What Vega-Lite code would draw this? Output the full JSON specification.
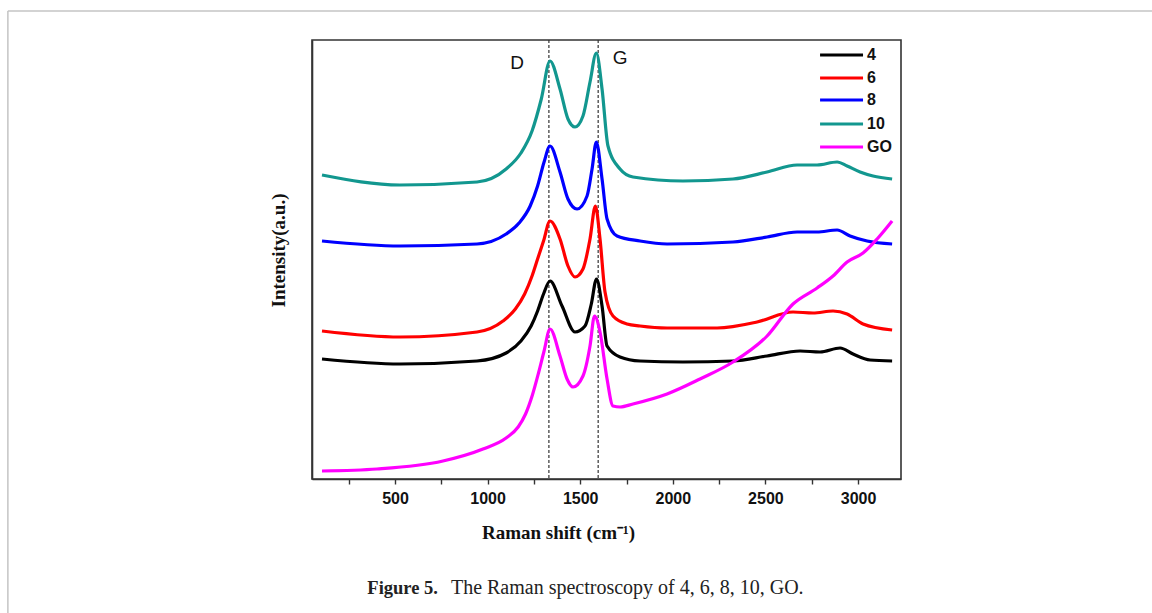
{
  "$schema": "https://vega.github.io/schema/vega-lite/v6.json",
  "width": 589,
  "height": 439,
  "autosize": {"type": "none"},
  "padding": {"left": 312, "top": 40, "right": 251, "bottom": 134},
  "background": "white",
  "config": {
    "view": {"stroke": "#333333", "strokeWidth": 1.6},
    "axis": {"grid": false}
  },
  "datasets": {
    "spectra": [
      {"x": 106, "y": 120, "s": "4"}, {"x": 527, "y": 115, "s": "4"}, {"x": 943, "y": 118, "s": "4"}, {"x": 1100, "y": 126, "s": "4"}, {"x": 1180, "y": 138, "s": "4"}, {"x": 1235, "y": 153, "s": "4"}, {"x": 1270, "y": 168, "s": "4"}, {"x": 1302, "y": 185, "s": "4"}, {"x": 1337, "y": 198, "s": "4"}, {"x": 1402, "y": 173, "s": "4"}, {"x": 1472, "y": 147, "s": "4"}, {"x": 1526, "y": 153, "s": "4"}, {"x": 1560, "y": 175, "s": "4"}, {"x": 1588, "y": 200, "s": "4"}, {"x": 1618, "y": 173, "s": "4"}, {"x": 1645, "y": 133, "s": "4"}, {"x": 1715, "y": 122, "s": "4"}, {"x": 1823, "y": 118, "s": "4"}, {"x": 2055, "y": 117, "s": "4"}, {"x": 2325, "y": 118, "s": "4"}, {"x": 2509, "y": 123, "s": "4"}, {"x": 2687, "y": 128, "s": "4"}, {"x": 2795, "y": 127, "s": "4"}, {"x": 2903, "y": 131, "s": "4"}, {"x": 2973, "y": 125, "s": "4"}, {"x": 3065, "y": 119, "s": "4"}, {"x": 3184, "y": 118, "s": "4"},
      {"x": 106, "y": 148, "s": "6"}, {"x": 527, "y": 142, "s": "6"}, {"x": 943, "y": 147, "s": "6"}, {"x": 1083, "y": 158, "s": "6"}, {"x": 1150, "y": 170, "s": "6"}, {"x": 1200, "y": 185, "s": "6"}, {"x": 1240, "y": 203, "s": "6"}, {"x": 1270, "y": 220, "s": "6"}, {"x": 1302, "y": 238, "s": "6"}, {"x": 1337, "y": 258, "s": "6"}, {"x": 1391, "y": 240, "s": "6"}, {"x": 1434, "y": 213, "s": "6"}, {"x": 1472, "y": 202, "s": "6"}, {"x": 1515, "y": 210, "s": "6"}, {"x": 1553, "y": 240, "s": "6"}, {"x": 1582, "y": 273, "s": "6"}, {"x": 1607, "y": 240, "s": "6"}, {"x": 1634, "y": 187, "s": "6"}, {"x": 1677, "y": 163, "s": "6"}, {"x": 1753, "y": 155, "s": "6"}, {"x": 1823, "y": 153, "s": "6"}, {"x": 1969, "y": 151, "s": "6"}, {"x": 2239, "y": 151, "s": "6"}, {"x": 2455, "y": 157, "s": "6"}, {"x": 2649, "y": 167, "s": "6"}, {"x": 2757, "y": 166, "s": "6"}, {"x": 2865, "y": 168, "s": "6"}, {"x": 2941, "y": 165, "s": "6"}, {"x": 3027, "y": 155, "s": "6"}, {"x": 3184, "y": 149, "s": "6"},
      {"x": 106, "y": 238, "s": "8"}, {"x": 527, "y": 233, "s": "8"}, {"x": 943, "y": 235, "s": "8"}, {"x": 1100, "y": 245, "s": "8"}, {"x": 1170, "y": 256, "s": "8"}, {"x": 1230, "y": 273, "s": "8"}, {"x": 1270, "y": 293, "s": "8"}, {"x": 1305, "y": 317, "s": "8"}, {"x": 1337, "y": 333, "s": "8"}, {"x": 1391, "y": 307, "s": "8"}, {"x": 1434, "y": 280, "s": "8"}, {"x": 1483, "y": 270, "s": "8"}, {"x": 1537, "y": 283, "s": "8"}, {"x": 1564, "y": 310, "s": "8"}, {"x": 1587, "y": 337, "s": "8"}, {"x": 1618, "y": 300, "s": "8"}, {"x": 1645, "y": 260, "s": "8"}, {"x": 1699, "y": 243, "s": "8"}, {"x": 1823, "y": 238, "s": "8"}, {"x": 1969, "y": 235, "s": "8"}, {"x": 2325, "y": 237, "s": "8"}, {"x": 2509, "y": 242, "s": "8"}, {"x": 2671, "y": 247, "s": "8"}, {"x": 2779, "y": 247, "s": "8"}, {"x": 2887, "y": 249, "s": "8"}, {"x": 2957, "y": 243, "s": "8"}, {"x": 3049, "y": 238, "s": "8"}, {"x": 3184, "y": 235, "s": "8"},
      {"x": 106, "y": 304, "s": "10"}, {"x": 527, "y": 294, "s": "10"}, {"x": 943, "y": 297, "s": "10"}, {"x": 1100, "y": 310, "s": "10"}, {"x": 1180, "y": 326, "s": "10"}, {"x": 1240, "y": 348, "s": "10"}, {"x": 1290, "y": 380, "s": "10"}, {"x": 1337, "y": 418, "s": "10"}, {"x": 1391, "y": 390, "s": "10"}, {"x": 1434, "y": 360, "s": "10"}, {"x": 1472, "y": 352, "s": "10"}, {"x": 1515, "y": 363, "s": "10"}, {"x": 1553, "y": 397, "s": "10"}, {"x": 1587, "y": 426, "s": "10"}, {"x": 1618, "y": 390, "s": "10"}, {"x": 1650, "y": 333, "s": "10"}, {"x": 1715, "y": 310, "s": "10"}, {"x": 1785, "y": 302, "s": "10"}, {"x": 2055, "y": 298, "s": "10"}, {"x": 2325, "y": 300, "s": "10"}, {"x": 2509, "y": 307, "s": "10"}, {"x": 2671, "y": 314, "s": "10"}, {"x": 2779, "y": 314, "s": "10"}, {"x": 2887, "y": 317, "s": "10"}, {"x": 2941, "y": 313, "s": "10"}, {"x": 3011, "y": 307, "s": "10"}, {"x": 3081, "y": 303, "s": "10"}, {"x": 3184, "y": 300, "s": "10"},
      {"x": 106, "y": 8, "s": "GO"}, {"x": 403, "y": 10, "s": "GO"}, {"x": 759, "y": 18, "s": "GO"}, {"x": 975, "y": 30, "s": "GO"}, {"x": 1100, "y": 41, "s": "GO"}, {"x": 1165, "y": 52, "s": "GO"}, {"x": 1205, "y": 65, "s": "GO"}, {"x": 1242, "y": 84, "s": "GO"}, {"x": 1275, "y": 106, "s": "GO"}, {"x": 1305, "y": 128, "s": "GO"}, {"x": 1337, "y": 150, "s": "GO"}, {"x": 1391, "y": 123, "s": "GO"}, {"x": 1429, "y": 100, "s": "GO"}, {"x": 1461, "y": 92, "s": "GO"}, {"x": 1515, "y": 103, "s": "GO"}, {"x": 1553, "y": 133, "s": "GO"}, {"x": 1577, "y": 163, "s": "GO"}, {"x": 1607, "y": 147, "s": "GO"}, {"x": 1645, "y": 100, "s": "GO"}, {"x": 1677, "y": 73, "s": "GO"}, {"x": 1715, "y": 72, "s": "GO"}, {"x": 1785, "y": 75, "s": "GO"}, {"x": 1969, "y": 85, "s": "GO"}, {"x": 2147, "y": 100, "s": "GO"}, {"x": 2325, "y": 117, "s": "GO"}, {"x": 2509, "y": 143, "s": "GO"}, {"x": 2649, "y": 175, "s": "GO"}, {"x": 2779, "y": 191, "s": "GO"}, {"x": 2865, "y": 203, "s": "GO"}, {"x": 2941, "y": 217, "s": "GO"}, {"x": 3027, "y": 226, "s": "GO"}, {"x": 3103, "y": 240, "s": "GO"}, {"x": 3184, "y": 258, "s": "GO"}
    ],
    "bands": [{"x": 1331}, {"x": 1597}],
    "bandLabels": [{"x": 1159, "y": 416, "t": "D"}, {"x": 1715, "y": 421, "t": "G"}],
    "legend": [
      {"x": 2795, "x2": 3027, "lx": 3049, "y": 424, "s": "4"},
      {"x": 2795, "x2": 3027, "lx": 3049, "y": 401, "s": "6"},
      {"x": 2795, "x2": 3027, "lx": 3049, "y": 379, "s": "8"},
      {"x": 2795, "x2": 3027, "lx": 3049, "y": 355, "s": "10"},
      {"x": 2795, "x2": 3027, "lx": 3049, "y": 332, "s": "GO"}
    ],
    "captionBold": [{"x": 732, "y": -109, "t": "Figure 5."}],
    "captionText": [{"x": 802, "y": -109, "t": "The Raman spectroscopy of 4, 6, 8, 10, GO."}],
    "frame": [
      {"x": -1590, "x2": 4600, "y": 468, "y2": 468},
      {"x": -1590, "x2": -1590, "y": 468, "y2": -140}
    ]
  },
  "layer": [
    {
      "data": {"name": "frame"},
      "mark": {"type": "rule", "color": "#c4c4c4", "strokeWidth": 1.5},
      "encoding": {
        "x": {"field": "x", "type": "quantitative", "scale": {"domain": [52, 3232], "nice": false, "zero": false}},
        "x2": {"field": "x2"},
        "y": {"field": "y", "type": "quantitative", "scale": {"domain": [0, 439], "nice": false, "zero": false}},
        "y2": {"field": "y2"}
      }
    },
    {
      "data": {"name": "bands"},
      "mark": {"type": "rule", "color": "#333333", "strokeWidth": 1.2, "strokeDash": [3, 2]},
      "encoding": {
        "x": {"field": "x", "type": "quantitative"}
      }
    },
    {
      "data": {"name": "spectra"},
      "mark": {"type": "line", "strokeWidth": 3.2, "interpolate": "monotone"},
      "encoding": {
        "x": {
          "field": "x", "type": "quantitative",
          "axis": {
            "values": [250, 500, 750, 1000, 1250, 1500, 1750, 2000, 2250, 2500, 2750, 3000],
            "labelExpr": "datum.value % 500 === 0 ? datum.label : ''",
            "format": "d",
            "labelOverlap": false,
            "ticks": true, "tickSize": 5, "tickColor": "#333333", "tickWidth": 1.4,
            "domainColor": "#333333", "domainWidth": 1.6,
            "labelFont": "Liberation Sans", "labelFontWeight": "bold", "labelFontSize": 16, "labelColor": "#111111", "labelPadding": 6,
            "title": "Raman shift (cm⁻¹)",
            "titleFont": "Liberation Serif", "titleFontWeight": "bold", "titleFontSize": 19, "titleColor": "#111111",
            "titleX": 246, "titleY": 59, "titleAlign": "center", "titleBaseline": "alphabetic"
          }
        },
        "y": {
          "field": "y", "type": "quantitative",
          "axis": {
            "ticks": false, "labels": false,
            "domainColor": "#333333", "domainWidth": 1.6,
            "title": "Intensity(a.u.)",
            "titleFont": "Liberation Serif", "titleFontWeight": "bold", "titleFontSize": 19, "titleColor": "#111111",
            "titleX": -34, "titleY": 210, "titleAngle": -90, "titleAlign": "center", "titleBaseline": "middle"
          }
        },
        "color": {
          "field": "s", "type": "nominal",
          "scale": {"domain": ["4", "6", "8", "10", "GO"], "range": ["#000000", "#ff0000", "#0000ff", "#12978f", "#ff00ff"]},
          "legend": null
        },
        "detail": {"field": "s"}
      }
    },
    {
      "data": {"name": "bandLabels"},
      "mark": {"type": "text", "font": "Liberation Sans", "fontSize": 19, "color": "#111111", "align": "center", "baseline": "middle"},
      "encoding": {
        "x": {"field": "x", "type": "quantitative"},
        "y": {"field": "y", "type": "quantitative"},
        "text": {"field": "t"}
      }
    },
    {
      "data": {"name": "legend"},
      "mark": {"type": "rule", "strokeWidth": 3},
      "encoding": {
        "x": {"field": "x", "type": "quantitative"},
        "x2": {"field": "x2"},
        "y": {"field": "y", "type": "quantitative"},
        "color": {"field": "s", "type": "nominal", "legend": null}
      }
    },
    {
      "data": {"name": "legend"},
      "mark": {"type": "text", "font": "Liberation Sans", "fontWeight": "bold", "fontSize": 16, "color": "#111111", "align": "left", "baseline": "middle"},
      "encoding": {
        "x": {"field": "lx", "type": "quantitative"},
        "y": {"field": "y", "type": "quantitative"},
        "text": {"field": "s"}
      }
    },
    {
      "data": {"name": "captionBold"},
      "mark": {"type": "text", "font": "Liberation Serif", "fontSize": 18.5, "fontWeight": "bold", "color": "#222222", "align": "right", "baseline": "middle"},
      "encoding": {
        "x": {"field": "x", "type": "quantitative"},
        "y": {"field": "y", "type": "quantitative"},
        "text": {"field": "t"}
      }
    },
    {
      "data": {"name": "captionText"},
      "mark": {"type": "text", "font": "Liberation Serif", "fontSize": 20, "color": "#222222", "align": "left", "baseline": "middle"},
      "encoding": {
        "x": {"field": "x", "type": "quantitative"},
        "y": {"field": "y", "type": "quantitative"},
        "text": {"field": "t"}
      }
    }
  ]
}
